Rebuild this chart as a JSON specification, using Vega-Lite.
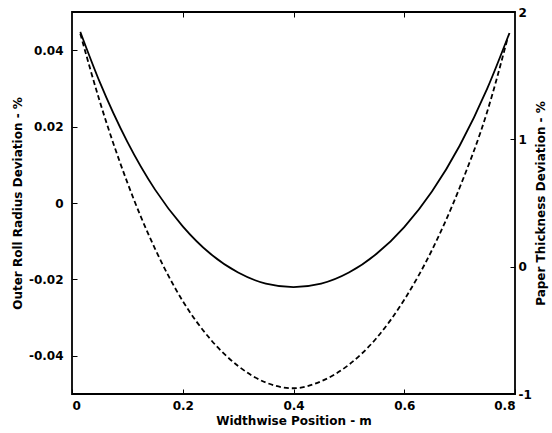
{
  "$schema": "https://vega.github.io/schema/vega-lite/v6.json",
  "width": 443,
  "height": 382,
  "autosize": {"type": "none"},
  "padding": {"left": 72, "top": 12, "right": 37, "bottom": 39},
  "config": {
    "font": "DejaVu Sans",
    "view": {"stroke": "black", "strokeWidth": 1.8},
    "axis": {
      "grid": false,
      "domain": false,
      "tickColor": "black",
      "tickSize": -5,
      "tickWidth": 1,
      "labelColor": "black",
      "labelFont": "DejaVu Sans",
      "labelFontSize": 12,
      "labelFontWeight": "bold",
      "titleColor": "black",
      "titleFont": "DejaVu Sans",
      "titleFontSize": 12,
      "titleFontWeight": "bold"
    }
  },
  "datasets": {
    "radius": [
      {"position": 0.015, "deviation": 0.0448},
      {"position": 0.05, "deviation": 0.0317},
      {"position": 0.1, "deviation": 0.016},
      {"position": 0.15, "deviation": 0.0035},
      {"position": 0.2, "deviation": -0.0061},
      {"position": 0.25, "deviation": -0.0133},
      {"position": 0.3, "deviation": -0.0182},
      {"position": 0.35, "deviation": -0.0211},
      {"position": 0.4, "deviation": -0.022},
      {"position": 0.45, "deviation": -0.0211},
      {"position": 0.5, "deviation": -0.0182},
      {"position": 0.55, "deviation": -0.0133},
      {"position": 0.6, "deviation": -0.0063},
      {"position": 0.65, "deviation": 0.003},
      {"position": 0.7, "deviation": 0.015},
      {"position": 0.75, "deviation": 0.03},
      {"position": 0.79, "deviation": 0.0445}
    ],
    "thickness": [
      {"position": 0.015, "deviation": 1.83},
      {"position": 0.05, "deviation": 1.3},
      {"position": 0.1, "deviation": 0.66},
      {"position": 0.15, "deviation": 0.14},
      {"position": 0.2, "deviation": -0.27},
      {"position": 0.25, "deviation": -0.57},
      {"position": 0.3, "deviation": -0.78},
      {"position": 0.35, "deviation": -0.91},
      {"position": 0.4, "deviation": -0.955},
      {"position": 0.45, "deviation": -0.9},
      {"position": 0.5, "deviation": -0.77},
      {"position": 0.55, "deviation": -0.56},
      {"position": 0.6, "deviation": -0.26},
      {"position": 0.65, "deviation": 0.13},
      {"position": 0.7, "deviation": 0.62},
      {"position": 0.75, "deviation": 1.22},
      {"position": 0.787, "deviation": 1.8}
    ]
  },
  "layer": [
    {
      "data": {"name": "radius"},
      "mark": {"type": "line", "color": "black", "strokeWidth": 1.8, "interpolate": "monotone"},
      "encoding": {
        "x": {
          "field": "position",
          "type": "quantitative",
          "scale": {"domain": [0, 0.8], "nice": false, "zero": false},
          "axis": {
            "orient": "bottom",
            "title": "Widthwise Position - m",
            "values": [0, 0.2, 0.4, 0.6, 0.8],
            "labelExpr": "toString(datum.value)",
            "labelPadding": 11,
            "titlePadding": 4
          }
        },
        "y": {
          "field": "deviation",
          "type": "quantitative",
          "scale": {"domain": [-0.05, 0.05], "nice": false, "zero": false},
          "axis": {
            "orient": "left",
            "title": "Outer Roll Radius Deviation - %",
            "values": [-0.04, -0.02, 0, 0.02, 0.04],
            "labelExpr": "toString(datum.value)",
            "labelPadding": 14,
            "titlePadding": 4
          }
        }
      }
    },
    {
      "data": {"name": "thickness"},
      "mark": {"type": "line", "color": "black", "strokeWidth": 1.8, "strokeDash": [5, 3], "interpolate": "monotone"},
      "encoding": {
        "x": {
          "field": "position",
          "type": "quantitative",
          "scale": {"domain": [0, 0.8], "nice": false, "zero": false},
          "axis": {
            "orient": "top",
            "title": null,
            "labels": false,
            "values": [0.2, 0.4, 0.6]
          }
        },
        "y": {
          "field": "deviation",
          "type": "quantitative",
          "scale": {"domain": [-1, 2], "nice": false, "zero": false},
          "axis": {
            "orient": "right",
            "title": "Paper Thickness Deviation - %",
            "values": [-1, 0, 1, 2],
            "labelExpr": "toString(datum.value)",
            "labelPadding": 8,
            "titleAngle": 270,
            "titlePadding": 16
          }
        }
      }
    }
  ],
  "resolve": {"scale": {"y": "independent"}, "axis": {"x": "independent"}}
}
